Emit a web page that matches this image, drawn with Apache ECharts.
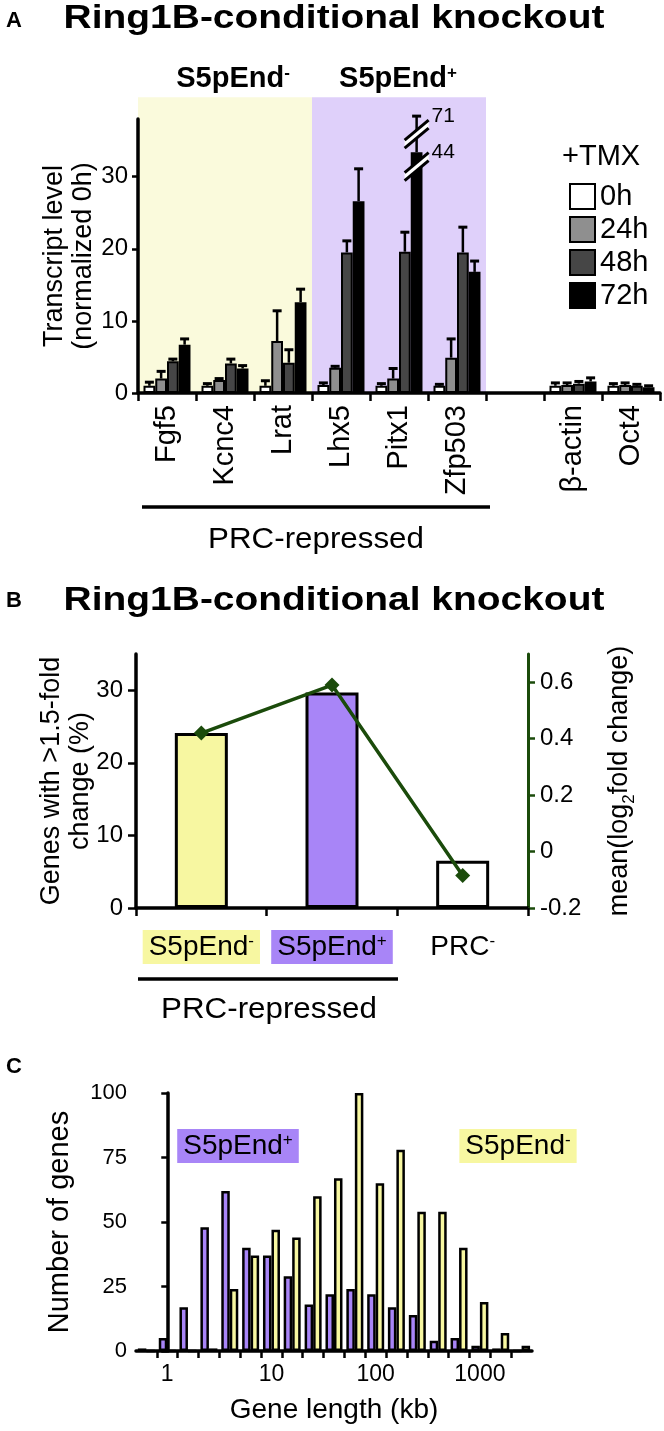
<!DOCTYPE html>
<html><head><meta charset="utf-8">
<script src="https://cdn.jsdelivr.net/npm/echarts@6/dist/echarts.min.js"></script>
<style>html,body{margin:0;padding:0;background:#fff}#c{width:664px;height:1431px}</style>
</head><body><div id="c"></div>
<script>
// ---------- Panel A data ----------
const genesA = ['Fgf5','Kcnc4','Lrat','Lhx5','Pitx1','Zfp503','','β-actin','Oct4'];
const timepoints = ['0h','24h','48h','72h'];
const lvl0h  = [1.0, 1.0, 1.0, 1.1, 1.0, 1.0, null, 1.0, 1.0];
const err0h  = [1.5, 1.3, 1.7, 1.4, 1.3, 1.2, null, 1.4, 1.3];
const lvl24h = [2.0, 1.8, 7.2, 3.5, 2.0, 4.9, null, 1.1, 1.1];
const err24h = [3.0, 2.0, 11.4, 3.7, 3.4, 7.5, null, 1.4, 1.4];
const lvl48h = [4.4, 4.1, 4.2, 19.5, 19.6, 19.5, null, 1.3, 1.0];
const err48h = [4.7, 4.7, 6.0, 21.1, 22.3, 23.0, null, 1.6, 1.2];
const lvl72h = [6.7, 3.4, 12.6, 26.6, 44, 16.8, null, 1.6, 0.8];
const err72h = [7.5, 3.8, 14.4, 31.5, 71, 18.3, null, 2.1, 1.0];
const bandNames = ['S5pEnd-', 'S5pEnd+'];
const bandFrom = [0, 3];
const bandTo = [2, 5];
const ticksA = [0, 10, 20, 30];

// ---------- Panel B data ----------
const groupsB = ['S5pEnd-', 'S5pEnd+', 'PRC-'];
const pctChanged = [24.1, 29.7, 6.5];
const meanLog2FC = [0.42, 0.59, -0.085];
const ticksBLeft = [0, 10, 20, 30];
const ticksBRight = [-0.2, 0, 0.2, 0.4, 0.6];

// ---------- Panel C data ----------
const binCentersKb = [0.63, 1, 1.58, 2.51, 3.98, 6.31, 10, 15.8, 25.1, 39.8, 63.1, 100, 158, 251, 398, 631, 1000, 1585, 2512];
const countPlus  = [1, 5, 17, 48, 62, 40, 37, 29, 18, 22, 24, 22, 17, 14, 4, 5, 2, 1, 0];
const countMinus = [0, 0, 0, 1, 24, 37, 47, 44, 60, 67, 100, 65, 78, 54, 54, 40, 19, 7, 2];
const labelsCkb = [1, 10, 100, 1000];

// ---------- styling ----------
const FF = '"Liberation Sans", Arial, Helvetica, sans-serif';
const GREEN = '#1b4b0b';
const YELLOW = '#F7F7A1';
const PURPLE = '#A885F7';
const BAND_Y = '#FAFADC';
const BAND_P = '#DFD0FA';
const GAP_A = 0.19;
const BAND_TOP = 41;
const BREAK_AT = 31, BREAK_K = 0.185;
const brk = v => v == null ? null : (v <= BREAK_AT ? v : BREAK_AT + (v - BREAK_AT) * BREAK_K);
const levels = [lvl0h, lvl24h, lvl48h, lvl72h];
const errs = [err0h, err24h, err48h, err72h];
const barColors = ['#ffffff', '#8f8f8f', '#464646', '#000000'];

function supFmt(label, tok) {
  const last = label.slice(-1);
  if (last === '-' || last === '+') return label.slice(0, -1) + '{' + tok + '|' + last + '}';
  return label;
}
function T(x, y, text, size, o) {
  o = o || {};
  const st = {
    text: text, fontSize: size, fontFamily: FF, fontWeight: o.bold ? 'bold' : 'normal',
    fill: '#000', align: o.align || 'center', verticalAlign: 'middle'
  };
  if (o.rich) st.rich = o.rich;
  if (o.bg) { st.backgroundColor = o.bg; st.padding = o.pad || [4, 6]; }
  return { type: 'text', x: x, y: y, scaleX: o.sx || 1, z: 100, silent: true, style: st };
}
const supRichBold = { s: { fontSize: 17, fontWeight: 'bold', fontFamily: FF, verticalAlign: 'top' } };
const supRich = { s: { fontSize: 17, fontFamily: FF, verticalAlign: 'top' } };

// error bar rows
const errRows = [];
levels.forEach((arr, s) => arr.forEach((v, i) => { if (v != null) errRows.push([i, s, brk(v), brk(errs[s][i])]); }));
// broken bar (Pitx1 72h)
const brokenRows = [[genesA.indexOf('Pitx1'), 3, lvl72h[4], err72h[4]]];
const bandRows = bandFrom.map((f, i) => [f, bandTo[i], i]);
const edgesC = binCentersKb.map(kb => Math.log10(kb) - 0.1).concat([Math.log10(binCentersKb[binCentersKb.length - 1]) + 0.1]);

const axLine = (c, w) => ({ show: true, lineStyle: { color: c || '#000', width: w || 3.5 } });

const option = {
  animation: false,
  backgroundColor: '#fff',
  textStyle: { fontFamily: FF },
  grid: [
    { left: 138, top: 119, width: 522, height: 274 },
    { left: 136, top: 654, width: 392, height: 254 },
    { left: 136, top: 1093, width: 396, height: 258 }
  ],
  legend: {
    data: timepoints, orient: 'vertical', left: 564, top: 177,
    itemWidth: 25, itemHeight: 25, itemGap: 4, icon: 'rect', selectedMode: false,
    textStyle: { fontSize: 29, fontFamily: FF, color: '#000' },
    itemStyle: { borderColor: '#000', borderWidth: 2 }
  },
  xAxis: [
    { gridIndex: 0, type: 'category', data: genesA, z: 5,
      axisLine: axLine(), axisTick: { show: true, interval: 0, length: 8, lineStyle: { color: '#000', width: 2.5 } },
      axisLabel: { interval: 0, rotate: 90, margin: 12, fontSize: 29, color: '#000', fontFamily: FF } },
    { gridIndex: 1, type: 'category', z: 5,
      data: groupsB.map((g, i) => ({ value: g, textStyle: { backgroundColor: [YELLOW, PURPLE, 'transparent'][i] } })),
      axisLine: axLine(), axisTick: { show: true, interval: 0, length: 8, lineStyle: { color: '#000', width: 2.5 } },
      axisLabel: { interval: 0, margin: 22, fontSize: 28, color: '#000', fontFamily: FF, padding: [3, 6, 3, 6],
        formatter: v => supFmt(v, 's'), rich: supRich } },
    { gridIndex: 2, type: 'value', min: -0.3, max: 3.5, z: 5, splitLine: { show: false },
      axisLine: axLine(), axisTick: { show: true, customValues: edgesC, length: 7, lineStyle: { color: '#000', width: 2.5 } },
      axisLabel: { customValues: labelsCkb.map(v => Math.log10(v)), formatter: v => String(Math.round(Math.pow(10, v))),
        fontSize: 23, margin: 12, color: '#000', fontFamily: FF },
      name: 'Gene length (kb)', nameLocation: 'middle', nameGap: 45, nameMoveOverlap: false,
      nameTextStyle: { fontSize: 28, color: '#000', fontFamily: FF } }
  ],
  yAxis: [
    { gridIndex: 0, type: 'value', min: 0, max: 38, z: 5, splitLine: { show: false },
      axisLine: axLine(), axisTick: { show: true, customValues: ticksA, length: 6, lineStyle: { color: '#000', width: 2.5 } },
      axisLabel: { customValues: ticksA, fontSize: 24, margin: 10, color: '#000', fontFamily: FF },
      name: 'Transcript level\n(normalized 0h)', nameLocation: 'middle', nameGap: 40, nameMoveOverlap: false,
      nameTextStyle: { fontSize: 27, lineHeight: 29, color: '#000', fontFamily: FF } },
    { gridIndex: 1, type: 'value', min: 0, max: 35, z: 5, splitLine: { show: false },
      axisLine: axLine(), axisTick: { show: true, customValues: ticksBLeft, length: 8, lineStyle: { color: '#000', width: 2.5 } },
      axisLabel: { customValues: ticksBLeft, fontSize: 24, margin: 13, color: '#000', fontFamily: FF },
      name: 'Genes with >1.5-fold\nchange (%)', nameLocation: 'middle', nameGap: 41, nameMoveOverlap: false,
      nameTextStyle: { fontSize: 27, lineHeight: 29, color: '#000', fontFamily: FF } },
    { gridIndex: 1, type: 'value', position: 'right', min: -0.2, max: 0.7, interval: 0.2, z: 5, splitLine: { show: false },
      axisLine: axLine(GREEN, 3), axisTick: { show: true, customValues: ticksBRight, length: 7, lineStyle: { color: GREEN, width: 2.5 } },
      axisLabel: { customValues: ticksBRight, fontSize: 24, margin: 12, color: '#000', fontFamily: FF,
        formatter: v => (Math.abs(v) < 1e-9 ? '0' : v.toFixed(1)) },
      name: 'mean(log{sub|2}fold change)', nameLocation: 'middle', nameGap: 74, nameMoveOverlap: false,
      nameTextStyle: { fontSize: 27, color: '#000', fontFamily: FF,
        rich: { sub: { fontSize: 17, fontFamily: FF, verticalAlign: 'bottom', lineHeight: 36 } } } },
    { gridIndex: 2, type: 'value', min: 0, max: 100, interval: 25, z: 5, splitLine: { show: false },
      axisLine: axLine(), axisTick: { show: true, length: 6, lineStyle: { color: '#000', width: 2.5 } },
      axisLabel: { fontSize: 22, margin: 9, color: '#000', fontFamily: FF },
      name: 'Number of genes', nameLocation: 'middle', nameGap: 62, nameMoveOverlap: false,
      nameTextStyle: { fontSize: 29, color: '#000', fontFamily: FF } }
  ],
  series: [
    { type: 'custom', name: 'bands', xAxisIndex: 0, yAxisIndex: 0, z: 1, silent: true,
      data: bandRows, encode: { x: 0, y: 2 },
      renderItem: (params, api) => {
        const f = api.value(0), t = api.value(1), k = api.value(2);
        const bw = api.size([1, 0])[0];
        const x0 = api.coord([f, 0])[0] - bw / 2, x1 = api.coord([t, 0])[0] + bw / 2;
        const yb = api.coord([f, 0])[1], yt = api.coord([f, BAND_TOP])[1];
        return { type: 'rect', shape: { x: x0, y: yt, width: x1 - x0, height: yb - yt },
          style: { fill: k === 0 ? BAND_Y : BAND_P } };
      } },
    ...timepoints.map((t, s) => ({
      type: 'bar', name: t, xAxisIndex: 0, yAxisIndex: 0, z: 2,
      barGap: '0%', barCategoryGap: (GAP_A * 100) + '%',
      data: levels[s].map(brk),
      itemStyle: { color: barColors[s], borderColor: '#000', borderWidth: 2 },
      emphasis: { disabled: true }
    })),
    { type: 'custom', name: 'errors', xAxisIndex: 0, yAxisIndex: 0, z: 3, silent: true,
      data: errRows, encode: { x: 0, y: 2 },
      renderItem: (params, api) => {
        const ci = api.value(0), s = api.value(1);
        const bw = api.size([1, 0])[0];
        const barW = bw * (1 - GAP_A) / 4;
        const x = api.coord([ci, 0])[0] + (s - 1.5) * barW;
        const yv = api.coord([ci, api.value(2)])[1];
        const ye = api.coord([ci, api.value(3)])[1];
        return { type: 'group', children: [
          { type: 'line', shape: { x1: x, y1: yv, x2: x, y2: ye }, style: { stroke: '#000', lineWidth: 2.5 } },
          { type: 'line', shape: { x1: x - 4.5, y1: ye, x2: x + 4.5, y2: ye }, style: { stroke: '#000', lineWidth: 3 } }
        ] };
      } },
    { type: 'custom', name: 'breaks', xAxisIndex: 0, yAxisIndex: 0, z: 4, silent: true,
      data: brokenRows, encode: { x: 0, y: 2 },
      renderItem: (params, api) => {
        const ci = api.value(0), s = api.value(1), v = api.value(2), e = api.value(3);
        const bw = api.size([1, 0])[0];
        const barW = bw * (1 - GAP_A) / 4;
        const x = api.coord([ci, 0])[0] + (s - 1.5) * barW;
        const yLow = api.coord([ci, BREAK_AT + 0.4])[1];
        const yHigh = api.coord([ci, brk((v + e) / 2)])[1];
        const yTop = api.coord([ci, brk(v)])[1];
        const yErr = api.coord([ci, brk(e)])[1];
        const mark = yc => [
          { type: 'polygon', shape: { points: [[x - 12, yc + 6], [x + 12, yc - 14], [x + 12, yc - 6], [x - 12, yc + 14]] }, style: { fill: '#fff' } },
          { type: 'line', shape: { x1: x - 12, y1: yc + 6, x2: x + 12, y2: yc - 14 }, style: { stroke: '#000', lineWidth: 3 } },
          { type: 'line', shape: { x1: x - 12, y1: yc + 14, x2: x + 12, y2: yc - 6 }, style: { stroke: '#000', lineWidth: 3 } }
        ];
        const lab = (y, t) => ({ type: 'text', x: x + 15, y: y,
          style: { text: t, fontSize: 21, fontFamily: FF, fill: '#000', align: 'left', verticalAlign: 'middle' } });
        return { type: 'group', children: [...mark(yLow), ...mark(yHigh), lab(yTop, String(v)), lab(yErr, String(e))] };
      } },
    { type: 'bar', name: 'pct', xAxisIndex: 1, yAxisIndex: 1, barWidth: 53, z: 2,
      data: pctChanged.map((v, i) => ({ value: v, itemStyle: { color: [YELLOW, PURPLE, '#ffffff'][i] } })),
      itemStyle: { borderColor: '#000', borderWidth: 3 }, emphasis: { disabled: true } },
    { type: 'line', name: 'log2fc', xAxisIndex: 1, yAxisIndex: 2, z: 4,
      data: meanLog2FC, symbol: 'diamond', symbolSize: 15,
      lineStyle: { color: GREEN, width: 3.5 }, itemStyle: { color: GREEN }, emphasis: { disabled: true } },
    { type: 'bar', name: 'S5pEnd+ genes', xAxisIndex: 2, yAxisIndex: 3, barWidth: 8.5, barGap: '0%', z: 2,
      data: binCentersKb.map((kb, i) => [Math.log10(kb), countPlus[i]]),
      itemStyle: { color: PURPLE, borderColor: '#000', borderWidth: 2.5 }, emphasis: { disabled: true } },
    { type: 'bar', name: 'S5pEnd- genes', xAxisIndex: 2, yAxisIndex: 3, barWidth: 8.5, barGap: '0%', z: 2,
      data: binCentersKb.map((kb, i) => [Math.log10(kb), countMinus[i]]),
      itemStyle: { color: YELLOW, borderColor: '#000', borderWidth: 2.5 }, emphasis: { disabled: true } }
  ],
  graphic: { elements: [
    T(6, 21, 'A', 22, { bold: true, align: 'left' }),
    T(334, 19, 'Ring1B-conditional knockout', 33, { bold: true, sx: 1.18 }),
    T(233, 79, supFmt(bandNames[0], 's'), 29, { bold: true, rich: supRichBold }),
    T(398, 79, supFmt(bandNames[1], 's'), 29, { bold: true, rich: supRichBold }),
    T(562, 157, '+TMX', 29, { align: 'left' }),
    { type: 'line', z: 100, silent: true, shape: { x1: 142, y1: 507, x2: 490, y2: 507 }, style: { stroke: '#000', lineWidth: 3.5 } },
    T(316, 540, 'PRC-repressed', 29, { sx: 1.08 }),
    T(6, 601, 'B', 22, { bold: true, align: 'left' }),
    T(334, 601, 'Ring1B-conditional knockout', 33, { bold: true, sx: 1.18 }),
    { type: 'line', z: 100, silent: true, shape: { x1: 138, y1: 979, x2: 398, y2: 979 }, style: { stroke: '#000', lineWidth: 3.5 } },
    T(269, 1010, 'PRC-repressed', 29, { sx: 1.08 }),
    T(6, 1067, 'C', 22, { bold: true, align: 'left' }),
    T(238, 1146, supFmt('S5pEnd+', 's'), 28, { bg: PURPLE, pad: [3, 6], rich: supRich }),
    T(518, 1146, supFmt('S5pEnd-', 's'), 28, { bg: YELLOW, pad: [3, 6], rich: supRich })
  ] }
};
const chart = echarts.init(document.getElementById('c'), null, { renderer: 'canvas' });
chart.setOption(option);
</script></body></html>
